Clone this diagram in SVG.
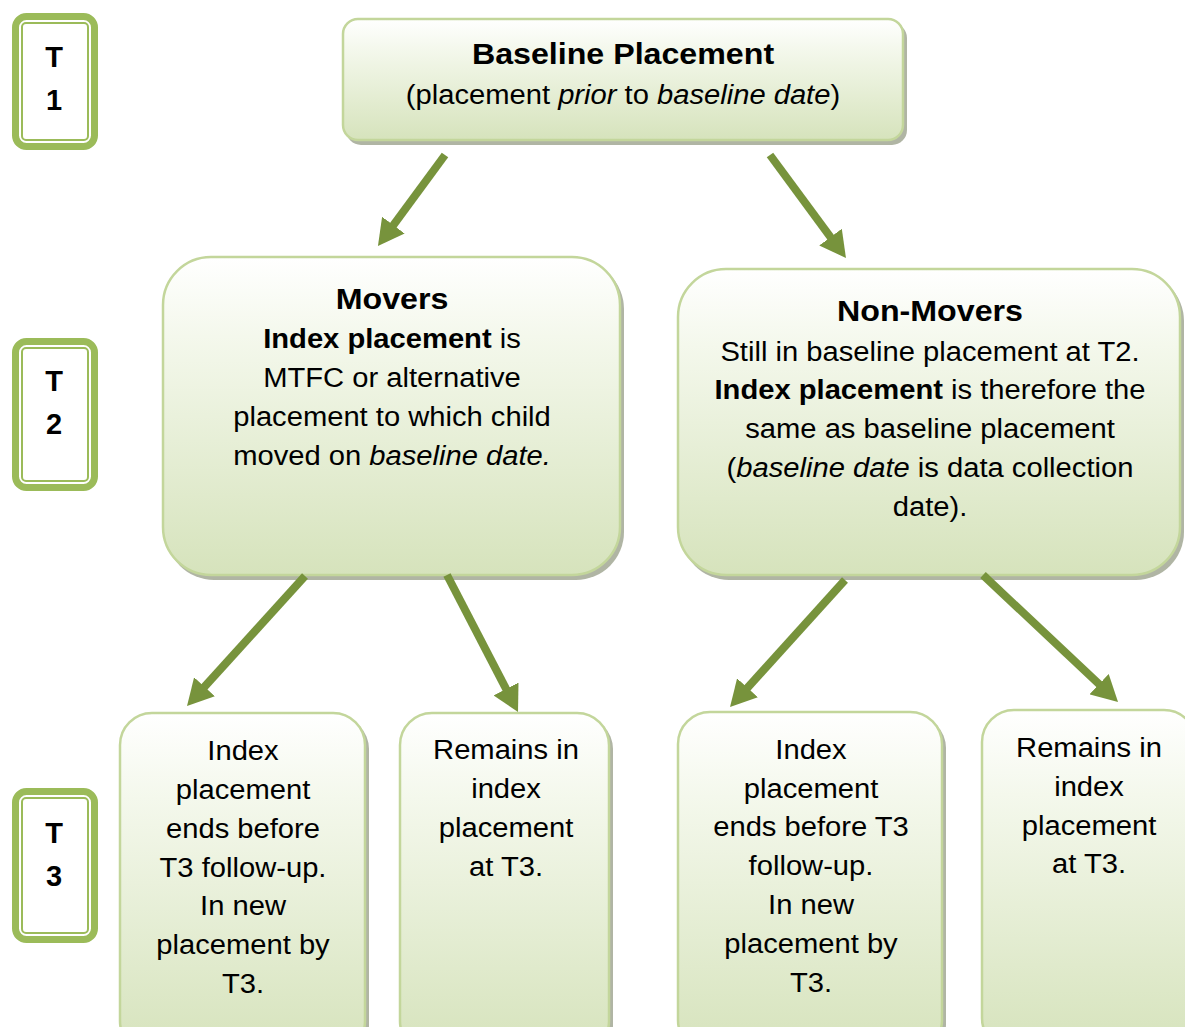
<svg xmlns="http://www.w3.org/2000/svg" width="1185" height="1027" viewBox="0 0 1185 1027">
<defs>
<linearGradient id="g" x1="0" y1="0" x2="0" y2="1">
<stop offset="0" stop-color="#FFFFFF"/>
<stop offset="0.25" stop-color="#F4F8EC"/>
<stop offset="1" stop-color="#D6E3BC"/>
</linearGradient>
<marker id="ah" markerUnits="userSpaceOnUse" viewBox="0 0 26 28" markerWidth="26" markerHeight="28" refX="4" refY="14" orient="auto">
<path d="M0,0 L26,14 L0,28 z" fill="#77933C"/>
</marker>
</defs>
<style>
.box{fill:url(#g);stroke:#C3D69B;stroke-width:2.5}
.sh{fill:#A2A894;opacity:0.85}
.tout{fill:#FFFFFF;stroke:#9BBB59;stroke-width:7}
.tin{fill:none;stroke:#9BBB59;stroke-width:2}
.tl{font-family:"Liberation Sans",Arial,sans-serif;font-weight:bold;font-size:29px;fill:#000;text-anchor:middle}
.t{font-family:"Liberation Sans",Arial,sans-serif;font-size:27px;fill:#000;text-anchor:middle}
.b{font-weight:bold}
.i{font-style:italic}
.h{font-size:29.8px;font-weight:bold}
.arr{stroke:#77933C;stroke-width:8;fill:none;marker-end:url(#ah)}
</style>
<rect width="1185" height="1027" fill="#FFFFFF"/>

<g id="t1">
<rect class="tout" x="15.5" y="16.5" width="79" height="130" rx="11"/>
<rect class="tin" x="22" y="23" width="66" height="117" rx="4"/>
<text class="tl" x="54" y="67">T</text>
<text class="tl" x="54" y="110">1</text>
</g>
<g id="t2">
<rect class="tout" x="15.5" y="341.5" width="79" height="146" rx="11"/>
<rect class="tin" x="22" y="348" width="66" height="133" rx="4"/>
<text class="tl" x="54" y="391">T</text>
<text class="tl" x="54" y="434">2</text>
</g>
<g id="t3">
<rect class="tout" x="15.5" y="791.5" width="79" height="148" rx="11"/>
<rect class="tin" x="22" y="798" width="66" height="135" rx="4"/>
<text class="tl" x="54" y="843">T</text>
<text class="tl" x="54" y="886">3</text>
</g>

<g id="baseline">
<rect class="sh" x="346" y="23" width="561" height="122" rx="15"/>
<rect class="box" x="343" y="19" width="560" height="121" rx="15"/>
<text class="t" transform="translate(623 0) scale(1.08 1)" x="0" y="64"><tspan class="h">Baseline Placement</tspan></text>
<text class="t" transform="translate(623 0) scale(1.08 1)" x="0" y="104">(placement <tspan class="i">prior</tspan> to <tspan class="i">baseline date</tspan>)</text>
</g>

<g id="movers">
<rect class="sh" x="166" y="261" width="458" height="319" rx="48"/>
<rect class="box" x="163" y="257" width="457" height="318" rx="48"/>
<g transform="translate(392 0) scale(1.08 1)">
<text class="t" x="0" y="309"><tspan class="h">Movers</tspan></text>
<text class="t" x="0" y="348"><tspan class="b">Index placement</tspan> is</text>
<text class="t" x="0" y="387">MTFC or alternative</text>
<text class="t" x="0" y="426">placement to which child</text>
<text class="t" x="0" y="465">moved on <tspan class="i">baseline date.</tspan></text>
</g>
</g>

<g id="nonmovers">
<rect class="sh" x="681" y="273" width="503" height="307" rx="48"/>
<rect class="box" x="678" y="269" width="502" height="306" rx="48"/>
<g transform="translate(930 0) scale(1.08 1)">
<text class="t" x="0" y="321"><tspan class="h">Non-Movers</tspan></text>
<text class="t" x="0" y="361">Still in baseline placement at T2.</text>
<text class="t" x="0" y="399"><tspan class="b">Index placement</tspan> is therefore the</text>
<text class="t" x="0" y="438">same as baseline placement</text>
<text class="t" x="0" y="477">(<tspan class="i">baseline date</tspan> is data collection</text>
<text class="t" x="0" y="516">date).</text>
</g>
</g>

<g id="moverEnds">
<rect class="sh" x="123" y="717" width="246" height="340" rx="32"/>
<rect class="box" x="120" y="713" width="245" height="340" rx="32"/>
<g transform="translate(243 0) scale(1.08 1)">
<text class="t" x="0" y="760">Index</text>
<text class="t" x="0" y="799">placement</text>
<text class="t" x="0" y="838">ends before</text>
<text class="t" x="0" y="877">T3 follow-up.</text>
<text class="t" x="0" y="915">In new</text>
<text class="t" x="0" y="954">placement by</text>
<text class="t" x="0" y="993">T3.</text>
</g>
</g>

<g id="moverRemains">
<rect class="sh" x="403" y="717" width="210" height="340" rx="32"/>
<rect class="box" x="400" y="713" width="209" height="340" rx="32"/>
<g transform="translate(506 0) scale(1.08 1)">
<text class="t" x="0" y="759">Remains in</text>
<text class="t" x="0" y="798">index</text>
<text class="t" x="0" y="837">placement</text>
<text class="t" x="0" y="876">at T3.</text>
</g>
</g>

<g id="nonmoverEnds">
<rect class="sh" x="681" y="716" width="265" height="340" rx="32"/>
<rect class="box" x="678" y="712" width="264" height="340" rx="32"/>
<g transform="translate(811 0) scale(1.08 1)">
<text class="t" x="0" y="759">Index</text>
<text class="t" x="0" y="798">placement</text>
<text class="t" x="0" y="836">ends before T3</text>
<text class="t" x="0" y="875">follow-up.</text>
<text class="t" x="0" y="914">In new</text>
<text class="t" x="0" y="953">placement by</text>
<text class="t" x="0" y="992">T3.</text>
</g>
</g>

<g id="nonmoverRemains">
<rect class="sh" x="985" y="714" width="215" height="340" rx="32"/>
<rect class="box" x="982" y="710" width="214" height="340" rx="32"/>
<g transform="translate(1089 0) scale(1.08 1)">
<text class="t" x="0" y="757">Remains in</text>
<text class="t" x="0" y="796">index</text>
<text class="t" x="0" y="835">placement</text>
<text class="t" x="0" y="873">at T3.</text>
</g>
</g>

<g id="connectors">
<line class="arr" x1="445" y1="155" x2="391" y2="228.3"/>
<line class="arr" x1="770" y1="155" x2="832.9" y2="240.3"/>
<line class="arr" x1="305" y1="576" x2="201.8" y2="689.7"/>
<line class="arr" x1="447" y1="575" x2="507.9" y2="692.5"/>
<line class="arr" x1="845" y1="580" x2="744.8" y2="690.7"/>
<line class="arr" x1="983" y1="575" x2="1102" y2="686.9"/>
</g>
</svg>
